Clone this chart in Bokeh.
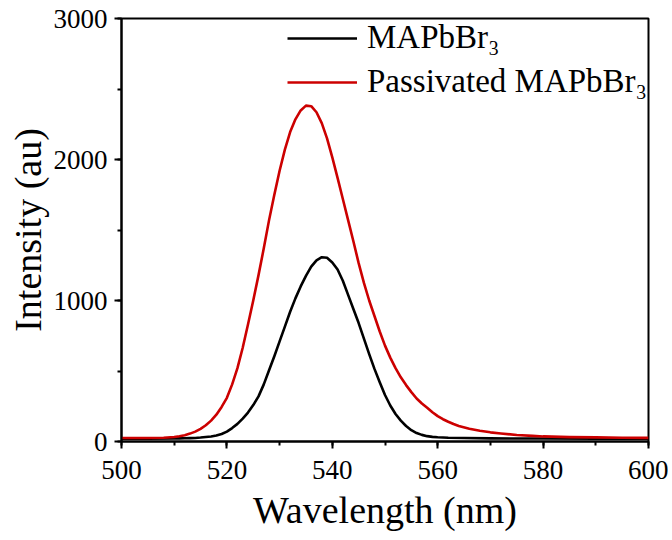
from bokeh.plotting import figure
from bokeh.models import Range1d, SingleIntervalTicker, Legend, LegendItem
from bokeh.embed import file_html
from bokeh.resources import INLINE

# ---- data ----
wl_black = [500, 505, 510, 511, 512, 513, 514, 515, 516, 517, 518, 519, 520, 521, 522, 523,
            524, 525, 526, 527, 528, 529, 530, 531, 532, 533, 534, 535, 536, 537, 538, 539,
            540, 541, 542, 543, 544, 545, 546, 547, 548, 549, 550, 551, 552, 553, 554, 555,
            556, 557, 558, 559, 560, 562, 565, 570, 580, 590, 600]
int_black = [20, 20, 21, 22, 23, 24, 25, 28, 32, 36, 42, 53, 70, 95, 125, 162,
             205, 258, 320, 405, 505, 605, 710, 815, 920, 1015, 1100, 1175, 1240, 1285, 1307, 1303,
             1270, 1220, 1140, 1040, 940, 840, 730, 620, 515, 420, 330, 255, 195, 148, 110, 80,
             60, 47, 38, 33, 30, 27, 25, 22, 21, 20, 20]

wl_red = [500, 505, 508, 510, 511, 512, 513, 514, 515, 516, 517, 518, 519, 520, 521, 522,
          523, 524, 525, 526, 527, 528, 529, 530, 531, 532, 533, 534, 535, 536, 537, 538,
          539, 540, 541, 542, 543, 544, 545, 546, 547, 548, 549, 550, 551, 552, 553, 554,
          555, 556, 557, 558, 559, 560, 561, 562, 563, 564, 566, 568, 570, 572, 575, 578,
          580, 585, 590, 595, 600]
int_red = [25, 25, 27, 32, 37, 45, 56, 70, 90, 115, 148, 190, 245, 310, 405, 520,
           665, 830, 1000, 1180, 1370, 1570, 1750, 1920, 2070, 2195, 2285, 2348, 2382, 2378, 2335, 2258,
           2150, 2015, 1870, 1720, 1570, 1420, 1265, 1125, 1000, 890, 780, 680, 595, 520, 455, 400,
           350, 305, 270, 240, 208, 180, 158, 140, 124, 110, 90, 76, 65, 57, 46, 40,
           36, 31, 29, 27, 26]

series_labels = ["MAPbBr\u2083", "Passivated MAPbBr\u2083"]
x_label = "Wavelength (nm)"
y_label = "Intensity (au)"

FONT = "Liberation Serif"

p = figure(output_backend="svg", toolbar_location=None,
           frame_width=527, frame_height=423,
           min_border_left=121, min_border_top=18, min_border_right=20, min_border_bottom=90,
           x_range=Range1d(500, 600), y_range=Range1d(0, 3000))

r_black = p.line(wl_black, int_black, line_color="black", line_width=2.6, line_join="round")
r_red = p.line(wl_red, int_red, line_color="#CC0000", line_width=2.6, line_join="round")

p.xgrid.visible = False
p.ygrid.visible = False
p.outline_line_color = "black"
p.outline_line_width = 2
p.outline_line_alpha = 1

p.xaxis.ticker = SingleIntervalTicker(interval=20, num_minor_ticks=2)
p.yaxis.ticker = SingleIntervalTicker(interval=1000, num_minor_ticks=2)

for ax in (p.xaxis[0], p.yaxis[0]):
    ax.axis_line_width = 2
    ax.axis_line_color = "black"
    ax.major_tick_line_width = 2
    ax.minor_tick_line_width = 2
    ax.major_tick_in = 0
    ax.major_tick_out = 7
    ax.minor_tick_in = 0
    ax.minor_tick_out = 4
    ax.major_label_text_font = FONT
    ax.major_label_text_font_size = "27px"
    ax.major_label_text_color = "black"
    ax.axis_label_text_font = FONT
    ax.axis_label_text_font_size = "38px"
    ax.axis_label_text_font_style = "normal"
    ax.axis_label_text_color = "black"

p.xaxis.axis_label = x_label
p.yaxis.axis_label = y_label
p.xaxis.major_label_standoff = 12
p.yaxis.major_label_standoff = 7
p.xaxis.axis_label_standoff = 7
p.yaxis.axis_label_standoff = 2

legend = Legend(items=[LegendItem(label=series_labels[0], renderers=[r_black]),
                       LegendItem(label=series_labels[1], renderers=[r_red])],
                location=(166, 341), orientation="vertical",
                label_text_font=FONT, label_text_font_size="33px",
                label_text_color="black",
                glyph_width=70, glyph_height=28, label_height=28, label_standoff=10,
                spacing=7, padding=0, margin=0,
                border_line_alpha=0, background_fill_alpha=0)
p.add_layout(legend, "center")

open("out.html", "w").write(file_html(p, INLINE))
